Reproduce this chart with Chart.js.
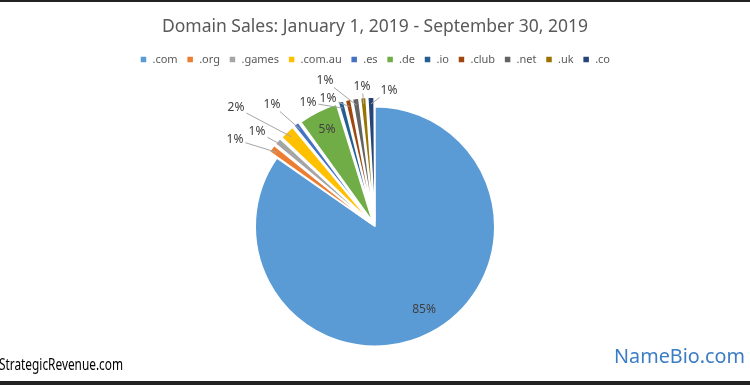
<!DOCTYPE html>
<html>
<head>
<meta charset="utf-8">
<script src="https://cdn.jsdelivr.net/npm/chart.js@4/dist/chart.umd.min.js"></script>
<style>
  html, body { margin: 0; padding: 0; background: #fff; }
  #wrap { width: 750px; height: 385px; }
</style>
</head>
<body>
<div id="wrap"><canvas id="domainPie" width="750" height="385"></canvas></div>
<script>
const domains = ['.com', '.org', '.games', '.com.au', '.es', '.de', '.io', '.club', '.net', '.uk', '.co'];
const shares = [84.7, 1.2, 1.1, 2.1, 0.9, 5.3, 0.9, 0.9, 1.0, 0.9, 1.0];
const sliceColors = ['#5b9bd5', '#ed7d31', '#a5a5a5', '#ffc000', '#4472c4', '#70ad47',
                     '#255e91', '#9e480e', '#636363', '#997300', '#264478'];
const chartTitle = 'Domain Sales: January 1, 2019 - September 30, 2019';
const leftNote = 'StrategicRevenue.com';
const rightNote = 'NameBio.com';

// where each % label sits, relative to the pie centre
const labelOffsets = [[49, 83], [-140, -87], [-118, -95], [-139, -119], [-103, -122], [-48, -97],
                      [-67, -124], [-47, -128], [-50, -146], [-13, -140], [14, -136]];

const FONT = '"Noto Sans", "Open Sans", sans-serif';

// white page + dark strips top and bottom
const framePlugin = {
  id: 'frame',
  beforeDraw(chart) {
    const ctx = chart.ctx;
    ctx.save();
    ctx.fillStyle = '#fff';
    ctx.fillRect(0, 0, chart.width, chart.height);
    ctx.fillStyle = '#222';
    ctx.fillRect(0, 0, chart.width, 2);
    ctx.fillRect(0, chart.height - 4, chart.width, 4);
    ctx.restore();
  }
};

// extra room under the legend so the pie sits lower
const legendGap = {
  id: 'legendGap',
  beforeInit(chart) {
    const fit = chart.legend.fit;
    chart.legend.fit = function () {
      fit.call(this);
      this.height += 21;
    };
  }
};

const pctLabels = {
  id: 'pctLabels',
  afterDatasetsDraw(chart) {
    const ctx = chart.ctx;
    const arcs = chart.getDatasetMeta(0).data;
    const vals = chart.data.datasets[0].data;
    const total = vals.reduce((s, v) => s + v, 0);
    ctx.save();
    ctx.font = '12px ' + FONT;
    ctx.textAlign = 'center';
    ctx.textBaseline = 'middle';
    arcs.forEach((arc, i) => {
      const p = arc.getProps(['x', 'y', 'startAngle', 'endAngle', 'outerRadius']);
      const txt = Math.round(vals[i] / total * 100) + '%';
      const lx = p.x + labelOffsets[i][0];
      const ly = p.y + labelOffsets[i][1];
      const dist = Math.hypot(labelOffsets[i][0], labelOffsets[i][1]);
      if (dist > p.outerRadius) {
        const mid = (p.startAngle + p.endAngle) / 2;
        const ax = p.x + Math.cos(mid) * (p.outerRadius + 3);
        const ay = p.y + Math.sin(mid) * (p.outerRadius + 3);
        const vx = ax - lx, vy = ay - ly;
        const hw = ctx.measureText(txt).width / 2 + 2, hh = 7;
        const t = Math.min(vx ? hw / Math.abs(vx) : 1e9, vy ? hh / Math.abs(vy) : 1e9);
        ctx.strokeStyle = '#a6a6a6';
        ctx.lineWidth = 1;
        ctx.beginPath();
        ctx.moveTo(lx + vx * t, ly + vy * t);
        ctx.lineTo(ax, ay);
        ctx.stroke();
      }
      ctx.fillStyle = '#404040';
      ctx.fillText(txt, lx, ly);
    });
    ctx.restore();
  }
};

const footNotes = {
  id: 'footNotes',
  afterDraw(chart) {
    const ctx = chart.ctx;
    ctx.save();
    ctx.textBaseline = 'alphabetic';
    ctx.textAlign = 'left';
    ctx.fillStyle = '#000';
    ctx.font = '17px ' + FONT;
    ctx.fillText(leftNote, -1, 370, 124);
    ctx.textAlign = 'right';
    ctx.fillStyle = '#3b7dc4';
    ctx.font = '20px ' + FONT;
    ctx.fillText(rightNote, 745, 363, 131);
    ctx.restore();
  }
};

new Chart(document.getElementById('domainPie').getContext('2d'), {
  type: 'pie',
  data: {
    labels: domains,
    datasets: [{
      data: shares,
      backgroundColor: sliceColors,
      borderColor: '#fff',
      borderWidth: 1.5,
      offset: ctx => (ctx.dataIndex === 0 ? 0 : 20)
    }]
  },
  options: {
    responsive: false,
    animation: false,
    layout: { padding: { top: 0, bottom: 28 } },
    plugins: {
      title: {
        display: true,
        text: chartTitle,
        color: '#595959',
        font: { family: FONT, size: 17.5, weight: 'normal' },
        padding: { top: 17, bottom: 7 }
      },
      legend: {
        position: 'top',
        labels: {
          color: '#595959',
          font: { family: FONT, size: 11 },
          boxWidth: 7,
          boxHeight: 7,
          padding: 9
        }
      },
      tooltip: { enabled: false }
    }
  },
  plugins: [framePlugin, legendGap, pctLabels, footNotes]
});
</script>
</body>
</html>
